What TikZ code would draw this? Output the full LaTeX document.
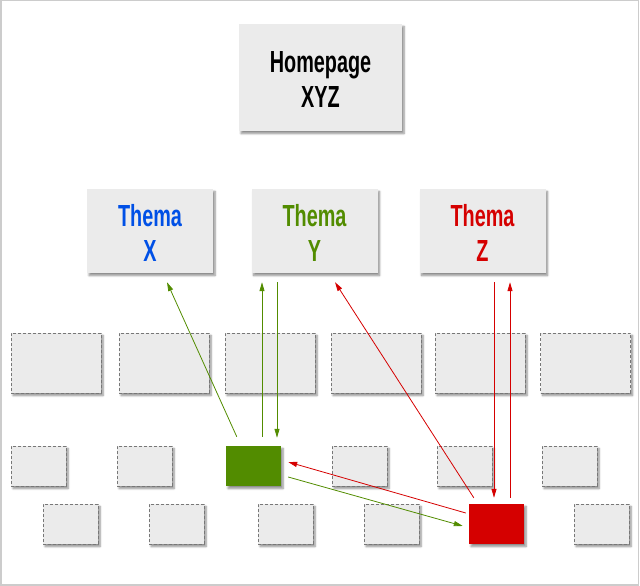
\documentclass[tikz,border=0pt]{standalone}
\usepackage{fontspec}
\usepackage{xcolor}
\usepackage{tikz}
\usetikzlibrary{shadows.blur,arrows.meta}
\newfontfamily\dinfont{Liberation Sans}[FakeStretch=0.65]
\definecolor{boxbg}{HTML}{EBEBEB}
\definecolor{dashgray}{HTML}{777777}
\definecolor{framegray}{HTML}{CCCCCC}
\definecolor{themablue}{HTML}{0050E6}
\definecolor{themagreen}{HTML}{528C00}
\definecolor{themared}{HTML}{D50000}
\newcommand{\twolines}[2]{\raisebox{-6pt}[\height][\depth]{\begin{tabular}{@{}c@{}}#1\\#2\end{tabular}}}

\tikzset{
  shade box/.style={blur shadow={shadow xshift=2pt, shadow yshift=-2.5pt,
      shadow blur radius=2pt, shadow blur steps=6, shadow opacity=45}},
  mainbox/.style={shade box, fill=boxbg, inner sep=0pt,
      font=\dinfont\bfseries\fontsize{30.5}{35}\selectfont},
  pagebox/.style={shade box, fill=boxbg, draw=dashgray, line width=0.9pt,
      dash pattern=on 3pt off 2pt, inner sep=0pt},
  bigpage/.style={pagebox, minimum width=90pt, minimum height=60pt},
  smallpage/.style={pagebox, minimum width=55pt, minimum height=40pt},
  link/.style={line width=0.8pt, -{Triangle[length=9pt,width=5pt]}},
}

\begin{document}
\begin{tikzpicture}[x=1pt, y=-1pt]
  \useasboundingbox (0,0) rectangle (640,586);
  \draw[framegray, line width=1.5pt] (0.75,0.75) rectangle (638.5,584.8);

  % Homepage and topics
  \node[mainbox, minimum width=163pt, minimum height=107pt] (home) at (320.5,77.5)
    {\twolines{Homepage}{XYZ}};
  \node[mainbox, minimum width=126pt, minimum height=84pt, text=themablue] (tx) at (150,231)
    {\twolines{Thema}{X}};
  \node[mainbox, minimum width=126pt, minimum height=84pt, text=themagreen] (ty) at (314.5,231)
    {\twolines{Thema}{Y}};
  \node[mainbox, minimum width=126pt, minimum height=84pt, text=themared] (tz) at (482.5,231)
    {\twolines{Thema}{Z}};

  % Pages, first row
  \foreach \x [count=\i] in {56,164,270,376,480,585.5}
    \node[bigpage] (p1-\i) at (\x,363) {};

  % Pages, second and third row
  \foreach \x [count=\i] in {38.5,144.5,359.5,464.5,569.5}
    \node[smallpage] (p2-\i) at (\x,466) {};
  \foreach \x [count=\i] in {70.5,176.5,285.5,391.5,601.5}
    \node[smallpage] (p3-\i) at (\x,524) {};
  \node[shade box, fill=themagreen, inner sep=0pt, minimum width=55pt, minimum height=40pt]
    (gpage) at (253.5,466) {};
  \node[shade box, fill=themared, inner sep=0pt, minimum width=55pt, minimum height=40pt]
    (rpage) at (496.5,524) {};

  % Green links
  \draw[link, themagreen] ([shift={(11,-9)}]gpage.north west) -- ([shift={(17,9)}]tx.south);
  \draw[link, themagreen] ([shift={(8.5,-9)}]gpage.north) -- ([shift={(-52.5,9)}]ty.south);
  \draw[link, themagreen] ([shift={(-37.5,9)}]ty.south) -- ([shift={(23.5,-8)}]gpage.north);
  \draw[link, themagreen] ([shift={(7,11)}]gpage.east) -- ([shift={(-6,2)}]rpage.west);

  % Red links
  \draw[link, themared] ([shift={(5,-6)}]rpage.north west) -- ([shift={(20.5,9)}]ty.south);
  \draw[link, themared] ([shift={(11.5,9)}]tz.south) -- ([shift={(-2.5,-6)}]rpage.north);
  \draw[link, themared] ([shift={(13.5,-6)}]rpage.north) -- ([shift={(27.5,9)}]tz.south);
  \draw[link, themared] ([shift={(-3,-11)}]rpage.west) -- ([shift={(7,-4)}]gpage.east);
\end{tikzpicture}
\end{document}
